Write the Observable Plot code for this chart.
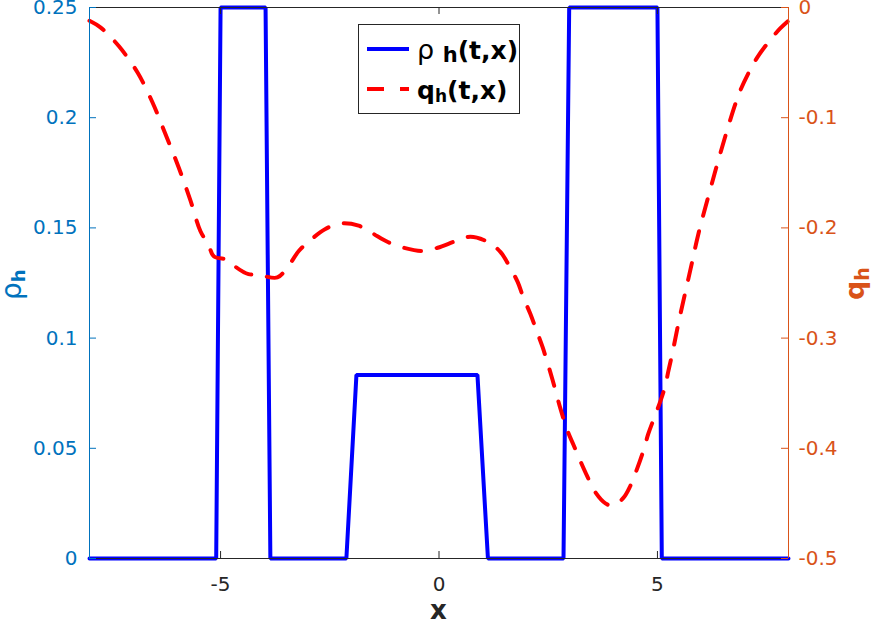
<!DOCTYPE html>
<html><head><meta charset="utf-8">
<script src="https://cdn.jsdelivr.net/npm/d3@7"></script>
<script src="https://cdn.jsdelivr.net/npm/@observablehq/plot@0.6"></script>
<style>
html,body{margin:0;padding:0;background:#fff;}
#chart{position:relative;width:872px;height:622px;}
</style></head><body><div id="chart"></div>
<script>
// ---- data ----
const rhoX   = [-8, -5.10, -5.00, -3.97, -3.86, -2.12, -1.89, 0.88, 1.12, 2.85, 2.98, 5.00, 5.10, 8];
const rhoVal = [0, 0, 0.25, 0.25, 0, 0, 0.0833, 0.0833, 0, 0, 0.25, 0.25, 0, 0];

const qX = [-8.00,-7.75,-7.33,-6.90,-6.56,-6.26,-5.96,-5.69,-5.46,-5.28,-5.15,-4.82,-4.70,-4.36,-4.13,-3.97,-3.70,-3.47,-3.21,-2.94,-2.60,-2.25,-1.84,-1.52,-1.16,-0.81,-0.38,-0.03,0.38,0.72,1.13,1.41,1.64,1.80,1.93,2.09,2.25,2.37,2.48,2.60,2.78,2.94,3.08,3.24,3.40,3.58,3.81,3.99,4.22,4.38,4.54,4.68,4.79,4.91,5.07,5.18,5.25,5.34,5.50,5.76,5.94,6.21,6.37,6.56,6.78,6.90,7.13,7.29,7.59,7.81,8.00];
const qVal = [-0.012,-0.018,-0.035,-0.059,-0.086,-0.115,-0.145,-0.175,-0.203,-0.215,-0.226,-0.229,-0.234,-0.242,-0.242,-0.244,-0.245,-0.236,-0.221,-0.211,-0.201,-0.196,-0.198,-0.205,-0.213,-0.218,-0.221,-0.218,-0.212,-0.208,-0.213,-0.222,-0.237,-0.249,-0.263,-0.278,-0.295,-0.308,-0.322,-0.338,-0.364,-0.384,-0.397,-0.412,-0.426,-0.440,-0.450,-0.452,-0.445,-0.434,-0.418,-0.402,-0.387,-0.374,-0.357,-0.343,-0.330,-0.314,-0.283,-0.237,-0.205,-0.165,-0.142,-0.116,-0.088,-0.075,-0.056,-0.045,-0.029,-0.019,-0.012];

const xTicks = [-5, 0, 5];
const rhoTicks = [0, 0.05, 0.1, 0.15, 0.2, 0.25];
const qTicks = [-0.5, -0.4, -0.3, -0.2, -0.1, 0];
const xDomain = [-8, 8];
const rhoDomain = [0, 0.25];
const qDomain = [-0.5, 0];

// map right-axis (q) values onto the left (rho) scale
const qToRho = q => rhoDomain[0] + (q - qDomain[0]) / (qDomain[1] - qDomain[0]) * (rhoDomain[1] - rhoDomain[0]);
const rhoToQ = r => qDomain[0] + (r - rhoDomain[0]) / (rhoDomain[1] - rhoDomain[0]) * (qDomain[1] - qDomain[0]);

const rhoData = rhoX.map((x, i) => ({x, y: rhoVal[i]}));
const qData = qX.map((x, i) => ({x, y: qToRho(qVal[i])}));

const W = 872, H = 622, mL = 89, mR = 84, mT = 7, mB = 64;
const innerW = W - mL - mR, innerH = H - mT - mB;
const tickLen = 7;
const FONT = "'DejaVu Sans', 'Liberation Sans', sans-serif";
const cLeft = "#0072BD", cRight = "#D95319", cAxis = "#262626";

const chart = Plot.plot({
  width: W, height: H,
  marginLeft: mL, marginRight: mR, marginTop: mT, marginBottom: mB,
  style: {fontFamily: FONT, fontSize: "20px", background: "#fff", overflow: "visible"},
  x: {domain: xDomain},
  y: {domain: rhoDomain},
  marks: [
    Plot.line(rhoData, {x: "x", y: "y", stroke: "#0000FF", strokeWidth: 4, strokeLinejoin: "miter"}),
    Plot.line(qData, {x: "x", y: "y", curve: "catmull-rom", stroke: "#FF0000", strokeWidth: 4, strokeDasharray: "17,16"}),
    Plot.ruleY([rhoDomain[1]], {stroke: cAxis, strokeWidth: 1}),
    Plot.ruleY([rhoDomain[0]], {stroke: cAxis, strokeWidth: 1}),
    Plot.ruleX([xDomain[0]], {stroke: cLeft, strokeWidth: 1}),
    Plot.ruleX([xDomain[1]], {stroke: cRight, strokeWidth: 1}),
    Plot.tickY(rhoTicks, {y: d => d, stroke: cLeft, insetRight: innerW - tickLen}),
    Plot.tickY(qTicks.map(qToRho), {y: d => d, stroke: cRight, insetLeft: innerW - tickLen}),
    Plot.tickX(xTicks, {x: d => d, stroke: cAxis, insetTop: innerH - tickLen}),
    Plot.tickX(xTicks, {x: d => d, stroke: cAxis, insetBottom: innerH - tickLen}),
    Plot.axisX({ticks: xTicks, tickSize: 0, tickPadding: 18, tickFormat: d => String(d), color: cAxis, fontSize: 20, label: null}),
    Plot.axisY({anchor: "left", ticks: rhoTicks, tickSize: 0, tickPadding: 12, tickFormat: d => String(d), color: cLeft, fontSize: 20, label: null}),
    Plot.axisY({anchor: "right", ticks: qTicks.map(qToRho), tickSize: 0, tickPadding: 10, tickFormat: d => String(+rhoToQ(d).toFixed(4)), color: cRight, fontSize: 20, label: null})
  ]
});
document.getElementById("chart").appendChild(chart);

// ---- labels and legend (real SVG text) ----
const svg = d3.select(chart);
svg.append("text").attr("x", mL + innerW / 2).attr("y", 619)
  .attr("text-anchor", "middle").attr("font-family", FONT).attr("font-weight", "bold")
  .attr("font-size", 26).attr("fill", cAxis).text("x");

const yl = svg.append("text").attr("transform", "translate(21,300) rotate(-90)")
  .attr("text-anchor", "start")
  .attr("font-family", FONT).attr("fill", cLeft).attr("font-size", 28);
yl.append("tspan").text("ρ");
yl.append("tspan").attr("font-weight", "bold").attr("font-size", 18).attr("dy", 4).text("h");

const yr = svg.append("text").attr("transform", "translate(864,300) rotate(-90)")
  .attr("text-anchor", "start")
  .attr("font-family", FONT).attr("fill", cRight).attr("font-size", 27).attr("font-weight", "bold");
yr.append("tspan").text("q");
yr.append("tspan").attr("font-size", 19).attr("dy", 5).text("h");

const lg = svg.append("g").attr("text-anchor", "start");
lg.append("rect").attr("x", 358.5).attr("y", 24.5).attr("width", 161).attr("height", 89)
  .attr("fill", "#fff").attr("stroke", cAxis).attr("stroke-width", 1);
lg.append("line").attr("x1", 367).attr("x2", 409).attr("y1", 49).attr("y2", 49)
  .attr("stroke", "#0000FF").attr("stroke-width", 4);
lg.append("line").attr("x1", 367).attr("x2", 409).attr("y1", 89).attr("y2", 89)
  .attr("stroke", "#FF0000").attr("stroke-width", 4).attr("stroke-dasharray", "17,16");
const t1 = lg.append("text").attr("x", 417).attr("y", 59).attr("font-family", FONT).attr("font-size", 25).attr("fill", "#000");
t1.append("tspan").attr("font-size", 27).text("ρ ");
t1.append("tspan").attr("font-weight", "bold").attr("dy", 3).attr("font-size", 21).text("h");
t1.append("tspan").attr("font-weight", "bold").attr("dy", -3).text("(t,x)");
const t2 = lg.append("text").attr("x", 417).attr("y", 99).attr("font-family", FONT).attr("font-size", 25).attr("fill", "#000").attr("font-weight", "bold");
t2.append("tspan").text("q");
t2.append("tspan").attr("dy", 3).attr("font-size", 17).text("h");
t2.append("tspan").attr("dy", -3).text("(t,x)");
</script>
</body></html>
